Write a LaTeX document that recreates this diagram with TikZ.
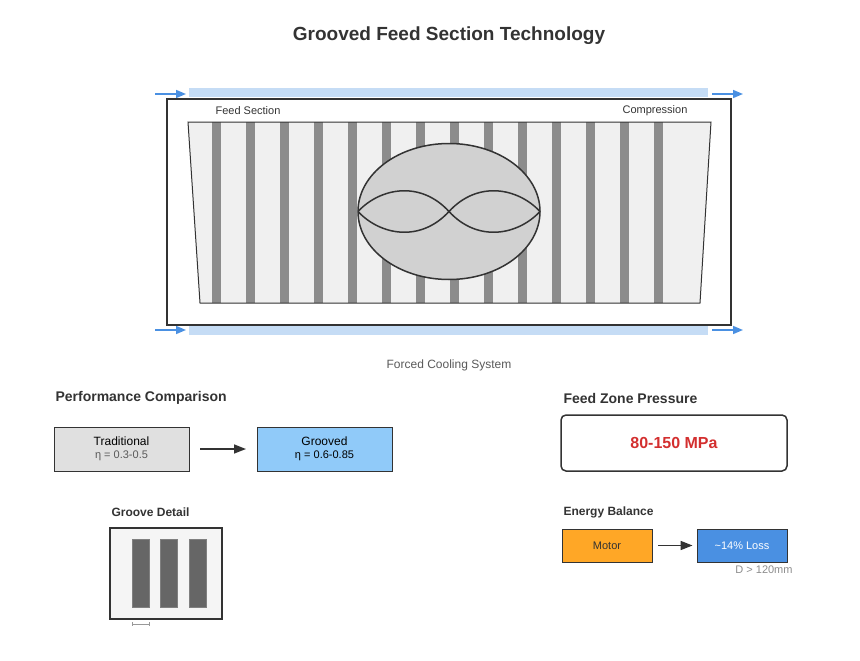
\documentclass[tikz,border=0pt]{standalone}
\usepackage{fontspec}
\setmainfont{Liberation Sans}
\usetikzlibrary{positioning, arrows.meta}
\definecolor{cool}{HTML}{C5DCF5}
\definecolor{flow}{HTML}{4A90E2}
\definecolor{edge}{HTML}{333333}
\definecolor{groove}{HTML}{8C8C8C}
\tikzset{
  box/.style={draw=edge, line width=0.9pt, minimum width=135pt, minimum height=44pt, align=center, font=\fontsize{12}{14}\selectfont},
  smallbox/.style={draw=edge, line width=0.9pt, minimum width=90pt, minimum height=33pt, font=\fontsize{11}{13}\selectfont},
  head/.style={anchor=west, font=\bfseries\fontsize{14}{16}\selectfont, text=edge},
  subhead/.style={anchor=west, font=\bfseries\fontsize{12}{14}\selectfont, text=edge},
  flowarrow/.style={-{Triangle[length=10pt,width=8pt]}, flow, line width=1.6pt},
  passarrow/.style={-{Triangle[length=12pt,width=9pt]}, edge, line width=1.6pt}
}
\begin{document}
\begin{tikzpicture}[x=1pt, y=-1pt]
\useasboundingbox (0,0) rectangle (860,661);

% Title
\node[font=\bfseries\fontsize{19}{22}\selectfont, text=edge] (title) at (449,36) {Grooved Feed Section Technology};

% Cooling channels
\fill[cool] (189,88) rectangle (708,97);
\fill[cool] (189,326) rectangle (708,335);
\coordinate (tl0) at (155,94); \coordinate (tl1) at (186,94);
\coordinate (tr0) at (712,94); \coordinate (tr1) at (743,94);
\coordinate (bl0) at (155,330); \coordinate (bl1) at (186,330);
\coordinate (br0) at (712,330); \coordinate (br1) at (743,330);
\draw[flowarrow] (tl0) -- (tl1);
\draw[flowarrow] (tr0) -- (tr1);
\draw[flowarrow] (bl0) -- (bl1);
\draw[flowarrow] (br0) -- (br1);

% Barrel
\draw[edge, line width=2pt] (167,99) rectangle (731,325);
\fill[black!6] (188,122) -- (711,122) -- (700,303) -- (200,303) -- cycle;
\foreach \i in {0,...,13}
  \fill[groove] (211.5+34*\i,122) rectangle (220.5+34*\i,303);
\draw[edge, line width=1pt] (188,122) -- (711,122) -- (700,303) -- (200,303) -- cycle;

% Screw
\draw[edge, fill=black!18, line width=1.5pt] (449,211.5) ellipse (91 and 68);
\draw[edge, line width=1.5pt] (358,211.5) .. controls (380,188) and (420,180) .. (449,211.5)
  .. controls (478,243) and (518,235) .. (540,211.5);
\draw[edge, line width=1.5pt] (358,211.5) .. controls (380,235) and (420,243) .. (449,211.5)
  .. controls (478,180) and (518,188) .. (540,211.5);

\node[font=\fontsize{11}{13}\selectfont, text=edge] (feed) at (248,111) {Feed Section};
\node[font=\fontsize{11}{13}\selectfont, text=edge] (comp) at (655,111) {Compression};
\node[font=\fontsize{12}{14}\selectfont, text=black!65] (cooling) at (449,365) {Forced Cooling System};

% Performance comparison
\node[head] (perf) at (52,398) {Performance Comparison};
\node[box, fill=black!12] (trad) at (121.5,449) {Traditional\\[-1pt]{\color{black!65}\fontsize{11}{13}\selectfont η = 0.3-0.5}};
\node[box, fill={rgb,255:red,144;green,202;blue,249}] (groov) at (324.5,449) {Grooved\\[-1pt]{\fontsize{11}{13}\selectfont η = 0.6-0.85}};
\draw[passarrow] (200,449) -- (246,449);

% Groove detail
\node[subhead] (detail) at (108,512) {Groove Detail};
\draw[edge, fill=black!4, line width=1.5pt] (110,528) rectangle (222,619);
\foreach \x in {132,160,189}
  \draw[black!50, fill=black!60] (\x,539) rectangle (\x+17,607);
\draw[black!40, line width=0.5pt] (132,624) -- (149,624);
\draw[black!40, line width=0.5pt] (132,622) -- (132,626) (149,622) -- (149,626);

% Feed zone pressure
\node[head] (press) at (560,398) {Feed Zone Pressure};
\node[draw=edge, line width=1.5pt, rounded corners=5pt, minimum width=226pt, minimum height=56pt,
  font=\bfseries\fontsize{16}{19}\selectfont, text={rgb,255:red,211;green,47;blue,47}] (mpa) at (674,443) {80-150 MPa};

% Energy balance
\node[subhead] (energy) at (560,512) {Energy Balance};
\node[smallbox, fill={rgb,255:red,255;green,167;blue,38}, text=edge] (motor) at (607,545.5) {Motor};
\node[smallbox, fill=flow, text=white] (loss) at (742,545.5) {\textasciitilde14\% Loss};
\draw[passarrow] (motor.east) ++(6,0) -- ([xshift=-4pt]loss.west);
\node[font=\fontsize{11}{13}\selectfont, text=black!45] (dia) at (764,570) {D > 120mm};

\end{tikzpicture}
\end{document}
